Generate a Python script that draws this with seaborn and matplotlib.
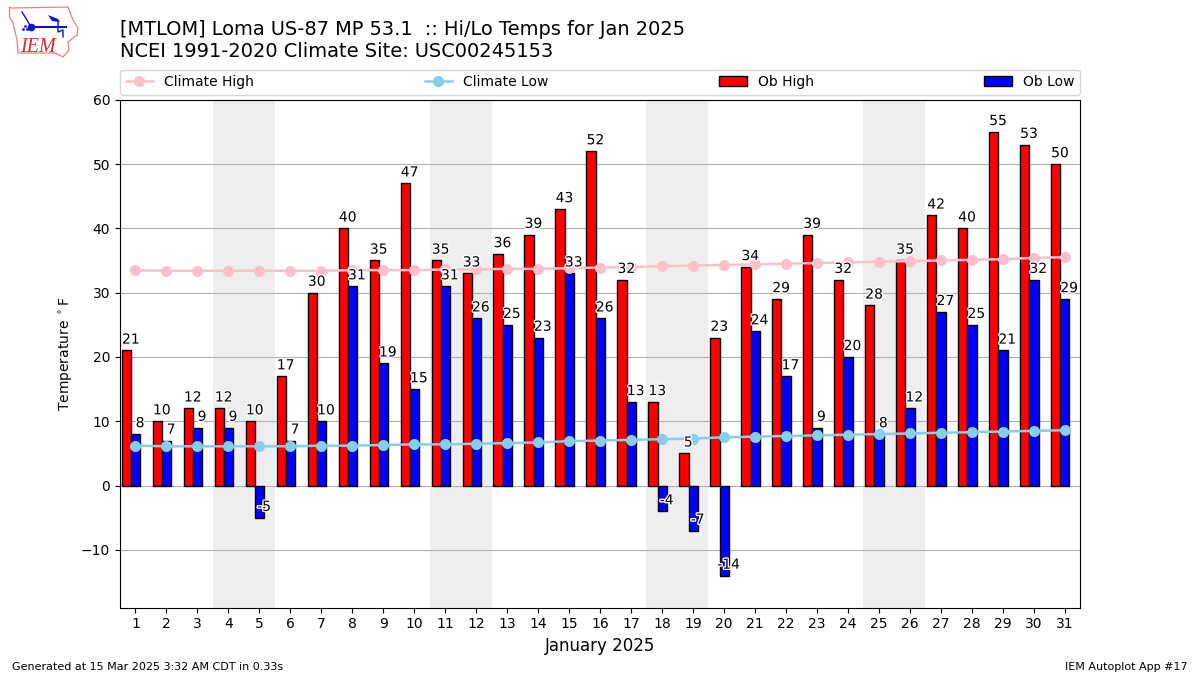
import matplotlib
matplotlib.use("Agg")
import matplotlib.pyplot as plt
import matplotlib.patheffects as pe
from matplotlib.lines import Line2D
from matplotlib.patches import Patch
import numpy as np
import pandas as pd
import seaborn as sns

days = list(range(1, 32))
ob_high = [21, 10, 12, 12, 10, 17, 30, 40, 35, 47, 35, 33, 36, 39, 43, 52, 32, 13, 5, 23,
           34, 29, 39, 32, 28, 35, 42, 40, 55, 53, 50]
ob_low = [8, 7, 9, 9, -5, 7, 10, 31, 19, 15, 31, 26, 25, 23, 33, 26, 13, -4, -7, -14,
          24, 17, 9, 20, 8, 12, 27, 25, 21, 32, 29]
climate_high = [33.5, 33.4, 33.4, 33.4, 33.4, 33.4, 33.4, 33.5, 33.5, 33.5, 33.6, 33.6, 33.7, 33.7, 33.8, 33.9,
                34.0, 34.1, 34.2, 34.3, 34.4, 34.5, 34.6, 34.7, 34.8, 34.9, 35.0, 35.1, 35.2, 35.4, 35.5]
climate_low = [6.2, 6.1, 6.1, 6.1, 6.1, 6.1, 6.2, 6.2, 6.3, 6.4, 6.4, 6.5, 6.6, 6.7, 6.9, 7.0,
               7.1, 7.2, 7.3, 7.5, 7.6, 7.7, 7.8, 7.9, 8.0, 8.1, 8.2, 8.3, 8.4, 8.5, 8.6]
weekends = [(3.5, 5.5), (10.5, 12.5), (17.5, 19.5), (24.5, 26.5)]

W, H = 1200, 675
fig = plt.figure(figsize=(12, 6.75), dpi=100)
ax = fig.add_axes([120 / W, 1 - 607.7 / H, 960 / W, 508 / H])

for a, b in weekends:
    ax.axvspan(a, b, color="#eeeeee", zorder=0, lw=0)
ax.grid(True, axis="y", color="#b0b0b0", lw=0.8, zorder=0.6)
ax.set_axisbelow(True)

shift = -0.14
bars = pd.DataFrame({
    "day": [d + shift for d in days] * 2,
    "temp": ob_high + ob_low,
    "series": ["Ob High"] * 31 + ["Ob Low"] * 31,
})
sns.barplot(data=bars, x="day", y="temp", hue="series", native_scale=True,
            palette={"Ob High": "red", "Ob Low": "blue"}, width=0.6, gap=0,
            edgecolor="black", linewidth=1, saturation=1, legend=False, ax=ax, zorder=2,
            errorbar=None)

clim = pd.DataFrame({"day": days, "high": climate_high, "low": climate_low})
sns.lineplot(data=clim, x="day", y="high", color="pink", lw=1.8, marker="o", markersize=8,
             markeredgewidth=0, ax=ax, zorder=3, errorbar=None)
sns.lineplot(data=clim, x="day", y="low", color="skyblue", lw=1.8, marker="o", markersize=8,
             markeredgewidth=0, ax=ax, zorder=3, errorbar=None)

stroke = [pe.withStroke(linewidth=2, foreground="white")]
for d, h, l in zip(days, ob_high, ob_low):
    ax.text(d - 0.15, h + 0.6, str(h), ha="center", va="bottom", fontsize=10, zorder=5, path_effects=stroke)
    ax.text(d + 0.15, l + 0.6, str(l), ha="center", va="bottom", fontsize=10, zorder=5, path_effects=stroke)

ax.set_xlim(0.5, 31.5)
ax.set_ylim(-19.0, 60)
ax.set_xticks(days)
ax.set_xticklabels([str(d) for d in days])
ax.set_yticks(range(-10, 61, 10))
ax.set_xlabel("January 2025", fontsize=12)
ax.set_ylabel(r"Temperature $^\circ$F")

handles = [
    Line2D([], [], color="pink", lw=1.8, marker="o", markersize=8, markeredgewidth=0),
    Line2D([], [], color="skyblue", lw=1.8, marker="o", markersize=8, markeredgewidth=0),
    Patch(facecolor="red", edgecolor="black"),
    Patch(facecolor="blue", edgecolor="black"),
]
ax.legend(handles, ["Climate High", "Climate Low", "Ob High", "Ob Low"], ncol=4, mode="expand",
          loc="lower left", bbox_to_anchor=(0, 1 + 5 / 508, 1, 0.1), borderaxespad=0, fontsize=10)

fig.text(120 / W, 1 - 35 / H, "[MTLOM] Loma US-87 MP 53.1  :: Hi/Lo Temps for Jan 2025", fontsize=13.98, va="baseline")
fig.text(120 / W, 1 - 57 / H, "NCEI 1991-2020 Climate Site: USC00245153", fontsize=13.98, va="baseline")
fig.text(12 / W, 1 - 670 / H, "Generated at 15 Mar 2025 3:32 AM CDT in 0.33s", fontsize=8, va="baseline")
fig.text(1188 / W, 1 - 670 / H, "IEM Autoplot App #17", fontsize=8, ha="right", va="baseline")

# Logo approximation
logo = fig.add_axes([0, 1 - 60 / H, 80 / W, 60 / H])
logo.set_xlim(0, 80)
logo.set_ylim(60, 0)
logo.axis("off")
outline_x = [9.5, 12, 68, 71, 73, 78, 77, 68, 69, 63, 55, 18, 17, 13, 9.5, 9.5]
outline_y = [7.5, 8, 7, 15, 20, 28, 35, 42, 50, 57, 53, 53, 40, 23, 17, 7.5]
logo.plot(outline_x, outline_y, color="#e88080", lw=0.9)
logo.plot([31, 66], [27, 27], color="#1010d0", lw=1.5)
logo.fill([48, 58, 60, 52], [15, 19, 22, 21], color="#1010d0", lw=0)
logo.plot([58, 58, 63, 63], [21, 32, 30, 37], color="#1010d0", lw=1)
logo.plot([22, 27, 31], [12, 20, 27], color="#1010d0", lw=1)
logo.plot([31], [27], "o", color="#1010d0", ms=4.5)
logo.plot([23, 25, 27], [29, 26, 29], ".", color="#1010d0", ms=2)
logo.text(20.5, 52, "IEM", color="#d03030", fontsize=14.5, family="Liberation Serif", style="italic", va="baseline")

fig.savefig("out.png", dpi=100)
